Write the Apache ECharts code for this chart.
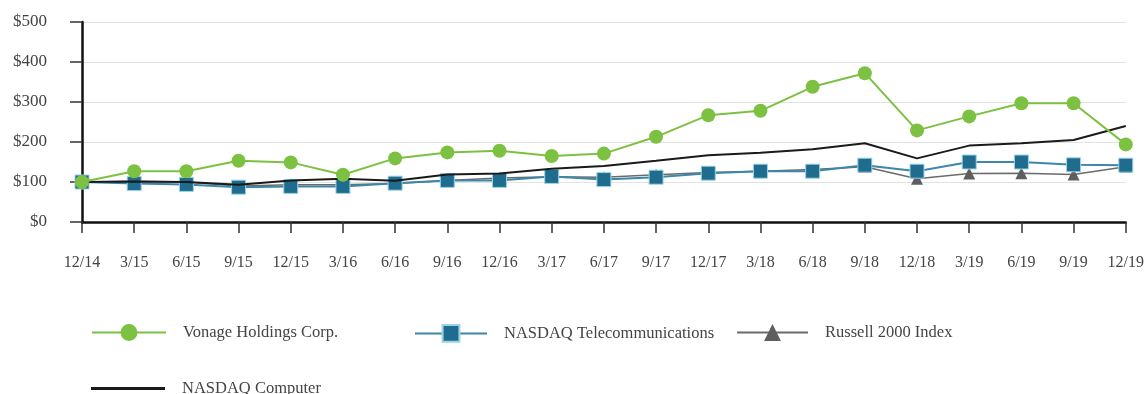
<!DOCTYPE html>
<html>
<head>
<meta charset="utf-8">
<script src="https://cdn.jsdelivr.net/npm/echarts@6/dist/echarts.min.js"></script>
<style>
  html, body {margin: 0; padding: 0; background: #fff;}
  #chart {width: 1147px; height: 394px;}
</style>
</head>
<body>
<div id="chart"></div>
<script>
const quarters = ["12/14", "3/15", "6/15", "9/15", "12/15", "3/16", "6/16", "9/16", "12/16", "3/17", "6/17",
  "9/17", "12/17", "3/18", "6/18", "9/18", "12/18", "3/19", "6/19", "9/19", "12/19"];

const vonage = [100, 127, 127, 153, 149, 118, 159, 174, 178, 165, 171, 213, 267, 278, 338, 372, 229, 264, 297, 297, 194];
const nasdaqTelecom = [100, 96, 94, 87, 89, 89, 97, 104, 104, 114, 106, 112, 122, 127, 127, 142, 127, 150, 150, 143, 142];
const russell2000 = [100, 102, 100, 90, 93, 93, 96, 104, 110, 113, 112, 118, 124, 127, 131, 138, 108, 121, 122, 119, 138];
const nasdaqComputer = [100, 101, 100, 93, 104, 108, 103, 119, 121, 133, 140, 153, 167, 173, 182, 197, 159, 191, 197, 205, 240];

const yTicks = [0, 100, 200, 300, 400, 500];

const font = "'Liberation Serif', 'DejaVu Serif', serif";
const chart = echarts.init(document.getElementById("chart"));

// one legend per item so each can sit where the original puts it
const legendBase = (item, left, top, width, height) => ({
  data: [item],
  left: left,
  top: top,
  itemWidth: width,
  itemHeight: height,
  textStyle: {fontFamily: font, fontSize: 16.5, color: "#444", padding: [0, 0, 0, 12]},
});

const option = {
  animation: false,
  backgroundColor: "#fff",
  grid: {left: 82, right: 21, top: 22, bottom: 172},
  legend: [
    legendBase("Vonage Holdings Corp.", 86, 319, 74, 21),
    legendBase("NASDAQ Telecommunications", 409, 319, 72, 21),
    legendBase("Russell 2000 Index", 731, 319, 71, 21),
    legendBase({name: "NASDAQ Computer", icon: "rect", itemStyle: {color: "#1a1a1a"}}, 86, 375, 74, 3),
  ],
  xAxis: {
    type: "category",
    data: quarters,
    boundaryGap: false,
    axisLine: {lineStyle: {color: "#111", width: 2.5}},
    axisTick: {alignWithLabel: true, length: 11, lineStyle: {color: "#333", width: 1.5}},
    axisLabel: {fontFamily: font, fontSize: 16, color: "#444", margin: 33, interval: 0},
    splitLine: {show: false},
  },
  yAxis: {
    type: "value",
    min: yTicks[0],
    max: yTicks[yTicks.length - 1],
    interval: 100,
    axisLine: {show: true, lineStyle: {color: "#111", width: 2.5}},
    axisTick: {show: true, length: 12, lineStyle: {color: "#333", width: 1.5}},
    axisLabel: {fontFamily: font, fontSize: 17, color: "#444", margin: 35, formatter: (v) => "$" + v},
    splitLine: {lineStyle: {color: "#e2e2e2", width: 1}},
  },
  series: [
    {
      name: "Russell 2000 Index",
      type: "line",
      data: russell2000,
      z: 2,
      symbol: "triangle",
      symbolSize: 12,
      lineStyle: {color: "#6b6b6b", width: 1.5},
      itemStyle: {color: "#5e5e5e"},
    },
    {
      name: "NASDAQ Telecommunications",
      type: "line",
      data: nasdaqTelecom,
      z: 3,
      symbol: "rect",
      symbolSize: 14,
      lineStyle: {color: "#3d87a8", width: 2},
      itemStyle: {color: "#1f6c8e", borderColor: "#9ad3e6", borderWidth: 1},
    },
    {
      name: "NASDAQ Computer",
      type: "line",
      data: nasdaqComputer,
      z: 4,
      symbol: "none",
      lineStyle: {color: "#1a1a1a", width: 2},
      itemStyle: {color: "#1a1a1a"},
    },
    {
      name: "Vonage Holdings Corp.",
      type: "line",
      data: vonage,
      z: 5,
      symbol: "circle",
      symbolSize: 14,
      lineStyle: {color: "#7cc142", width: 2},
      itemStyle: {color: "#7cc142"},
    },
  ],
};

chart.setOption(option);
</script>
</body>
</html>
